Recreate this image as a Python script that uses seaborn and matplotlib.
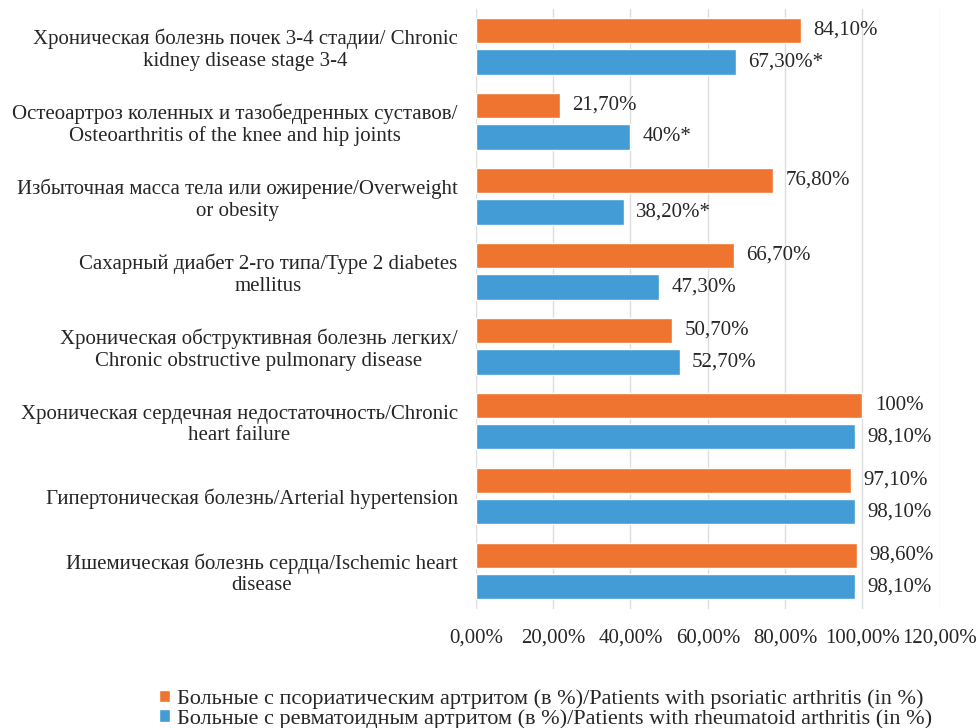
import matplotlib
matplotlib.use("Agg")
import matplotlib.pyplot as plt
import seaborn as sns
import pandas as pd

categories = [
    "Хроническая болезнь почек 3-4 стадии/ Chronic\nkidney disease stage 3-4",
    "Остеоартроз коленных и тазобедренных суставов/\nOsteoarthritis of the knee and hip joints",
    "Избыточная масса тела или ожирение/Overweight\nor obesity",
    "Сахарный диабет 2-го типа/Type 2 diabetes\nmellitus",
    "Хроническая обструктивная болезнь легких/\nChronic obstructive pulmonary disease",
    "Хроническая сердечная недостаточность/Chronic\nheart failure",
    "Гипертоническая болезнь/Arterial hypertension",
    "Ишемическая болезнь сердца/Ischemic heart\ndisease",
]
series_names = [
    "Больные с псориатическим артритом (в %)/Patients with psoriatic arthritis (in %)",
    "Больные с ревматоидным артритом (в %)/Patients with rheumatoid arthritis (in %)",
]
psoriatic = [84.1, 21.7, 76.8, 66.7, 50.7, 100.0, 97.1, 98.6]
rheumatoid = [67.3, 40.0, 38.2, 47.3, 52.7, 98.1, 98.1, 98.1]
# significance markers (*) per group
psoriatic_sig = [False] * 8
rheumatoid_sig = [True, True, True, False, False, False, False, False]
x_ticks = [0, 20, 40, 60, 80, 100, 120]

colors = ["#EE7430", "#439CD6"]
text_color = "#262626"
fs = 15

sns.set_theme(style="white")
plt.rcParams["font.family"] = ["Liberation Serif", "DejaVu Serif"]
plt.rcParams["font.size"] = fs

df = pd.DataFrame({
    "category": categories * 2,
    "value": psoriatic + rheumatoid,
    "group": [series_names[0]] * len(categories) + [series_names[1]] * len(categories),
})

fig = plt.figure(figsize=(9.79, 7.28), dpi=100)
ax = fig.add_axes([0.486, 0.164, 0.474, 0.824])

sns.barplot(data=df, y="category", x="value", hue="group", orient="h",
            palette=colors, width=0.84, gap=0.2, saturation=1,
            order=categories, hue_order=series_names, ax=ax, legend=True)


def fmt(v, star):
    if float(v).is_integer():
        s = f"{int(v)}%"
    else:
        s = f"{v:.2f}%".replace(".", ",")
    return s + ("*" if star else "")


for container, vals, sig in zip(ax.containers, [psoriatic, rheumatoid],
                                [psoriatic_sig, rheumatoid_sig]):
    ax.bar_label(container, labels=[fmt(v, s) for v, s in zip(vals, sig)],
                 padding=9, fontsize=fs, color=text_color)

ax.set_xlim(0, 120)
ax.set_ylim(len(categories) - 0.5, -0.5)
ax.set_xticks(x_ticks)
ax.set_xticklabels([f"{t:.2f}%".replace(".", ",") for t in x_ticks])
ax.tick_params(axis="x", length=0, pad=14, labelsize=fs, labelcolor=text_color)
ax.tick_params(axis="y", length=0, pad=13, labelsize=fs, labelcolor=text_color)
for lbl in ax.get_yticklabels():
    lbl.set_horizontalalignment("right")
    lbl.set_multialignment("center")
    lbl.set_linespacing(1.15)
ax.set_xlabel("")
ax.set_ylabel("")
ax.xaxis.grid(True, color="#DDDDDD", linewidth=1)
ax.set_axisbelow(True)
for sp in ax.spines.values():
    sp.set_visible(False)

handles, labels = ax.get_legend_handles_labels()
ax.get_legend().remove()
fig.legend(handles, labels, loc="lower left", bbox_to_anchor=(0.160, -0.004),
           frameon=False, fontsize=16, handlelength=0.5, handleheight=0.5,
           handletextpad=0.3, labelspacing=0.0, labelcolor=text_color,
           borderpad=0.1, borderaxespad=0.0)

fig.savefig("out.png", dpi=100, facecolor="white")
